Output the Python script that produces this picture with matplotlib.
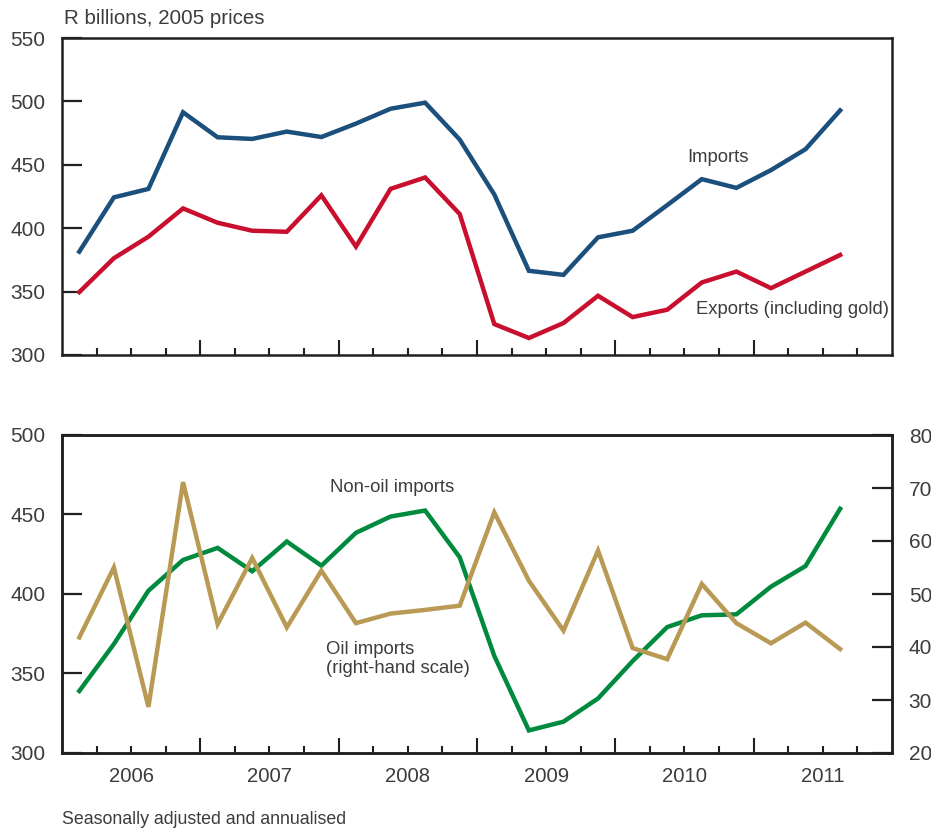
import numpy as np
import matplotlib
matplotlib.use("Agg")
import matplotlib.pyplot as plt
import matplotlib.transforms as mtransforms

plt.rcParams['font.family'] = ['Liberation Sans', 'DejaVu Sans']

quarters = ['2006Q1', '2006Q2', '2006Q3', '2006Q4',
            '2007Q1', '2007Q2', '2007Q3', '2007Q4',
            '2008Q1', '2008Q2', '2008Q3', '2008Q4',
            '2009Q1', '2009Q2', '2009Q3', '2009Q4',
            '2010Q1', '2010Q2', '2010Q3', '2010Q4',
            '2011Q1', '2011Q2', '2011Q3']
years = ['2006', '2007', '2008', '2009', '2010', '2011']

imports = [381.5, 424.3, 431.0, 491.4, 471.7, 470.4, 476.2, 471.9, 482.5, 494.2, 499.0, 469.9,
           426.6, 366.4, 363.2, 392.8, 398.0, 418.2, 438.7, 431.8, 445.8, 462.3, 492.9]
exports = [349.6, 376.3, 393.3, 415.6, 404.3, 398.0, 397.2, 425.9, 385.5, 431.0, 440.0, 411.2,
           324.4, 313.4, 325.2, 346.7, 329.9, 335.7, 357.2, 365.8, 352.7, 365.8, 378.9]
non_oil_imports = [339.0, 368.5, 402.1, 421.4, 429.0, 414.3, 433.0, 417.8, 438.5, 448.7, 452.5, 423.1,
                   361.1, 314.2, 319.7, 334.3, 357.8, 379.2, 386.6, 387.2, 404.6, 417.6, 453.6]
oil_imports = [41.8, 55.0, 28.7, 71.1, 44.3, 56.8, 43.7, 54.4, 44.5, 46.3, 47.0, 47.8,
               65.4, 52.5, 43.1, 58.2, 39.8, 37.7, 51.9, 44.5, 40.7, 44.6, 39.6]

top_ticks = [300, 350, 400, 450, 500, 550]
bot_ticks = [300, 350, 400, 450, 500]
right_ticks = [20, 30, 40, 50, 60, 70, 80]

C_IMP = '#1b4f7c'
C_EXP = '#c8102e'
C_GREEN = '#008a3e'
C_TAN = '#b99a55'
C_TEXT = '#3c3c3c'
C_AX = '#231f20'

x = np.arange(len(quarters)) + 0.5
n_slots = 4 * len(years)

fig = plt.figure(figsize=(9.31, 8.32), dpi=100)
L = 62 / 931
W = 830 / 931
ax1 = fig.add_axes([L, 1 - 355 / 832, W, 317 / 832])
ax3 = fig.add_axes([L, 1 - 753 / 832, W, 318 / 832])

FS_TICK = 15
FS_ANN = 13.3
LW = 3.2
PAD = 12

def style_axes(ax):
    ax.set_xlim(0, n_slots)
    for s in ax.spines.values():
        s.set_linewidth(1.8)
        s.set_color(C_AX)
    major = [i for i in range(4, n_slots, 4)]
    minor = [i for i in range(1, n_slots) if i % 4 != 0]
    ax.set_xticks(major)
    ax.set_xticklabels([''] * len(major))
    ax.set_xticks(minor, minor=True)
    ax.tick_params(axis='x', which='major', direction='in', length=11, width=1.5, color=C_AX)
    ax.tick_params(axis='x', which='minor', direction='in', length=5, width=1.5, color=C_AX)
    ax.tick_params(axis='y', direction='in', length=14.4, width=1.6, color=C_AX,
                   labelsize=FS_TICK, labelcolor=C_TEXT, pad=PAD)

style_axes(ax1)
ax1.plot(x, exports, color=C_EXP, lw=LW, solid_joinstyle='miter')
ax1.plot(x, imports, color=C_IMP, lw=LW, solid_joinstyle='miter')
ax1.set_ylim(300, 550)
ax1.set_yticks(top_ticks)

style_axes(ax3)
ax3.plot(x, non_oil_imports, color=C_GREEN, lw=LW, solid_joinstyle='miter')
ax3.set_ylim(300, 500)
ax3.set_yticks(bot_ticks)

ax4 = ax3.twinx()
ax4.plot(x, oil_imports, color=C_TAN, lw=LW, solid_joinstyle='miter')
ax4.set_ylim(20, 80)
ax4.set_yticks(right_ticks)
for s in ax4.spines.values():
    s.set_linewidth(1.8)
    s.set_color(C_AX)
ax4.tick_params(axis='y', direction='in', length=14.4, width=1.6, color=C_AX,
                labelsize=FS_TICK, labelcolor=C_TEXT, pad=PAD)

# Year labels
trans = mtransforms.blended_transform_factory(ax3.transData, ax3.transAxes)
for k, yr in enumerate(years):
    ax3.text(4 * k + 2, -0.074, yr, transform=trans, ha='center', va='center',
             fontsize=14.6, color=C_TEXT)

# Annotations
fig.text(64 / 931, 1 - 18 / 832, 'R billions, 2005 prices', fontsize=14.8, color=C_TEXT,
         ha='left', va='center')
fig.text(687 / 931, 1 - 157 / 832, 'Imports', fontsize=FS_ANN, color=C_TEXT,
         ha='left', va='center')
fig.text(696 / 931, 1 - 309 / 832, 'Exports (including gold)', fontsize=FS_ANN, color=C_TEXT,
         ha='left', va='center')
fig.text(330 / 931, 1 - 487 / 832, 'Non-oil imports', fontsize=FS_ANN, color=C_TEXT,
         ha='left', va='center')
fig.text(326 / 931, 1 - 659 / 832, 'Oil imports\n(right-hand scale)', fontsize=FS_ANN,
         color=C_TEXT, ha='left', va='center', linespacing=1.2)
fig.text(62 / 931, 1 - 820 / 832, 'Seasonally adjusted and annualised', fontsize=12.8,
         color=C_TEXT, ha='left', va='center')

fig.savefig('out.png', dpi=100)
